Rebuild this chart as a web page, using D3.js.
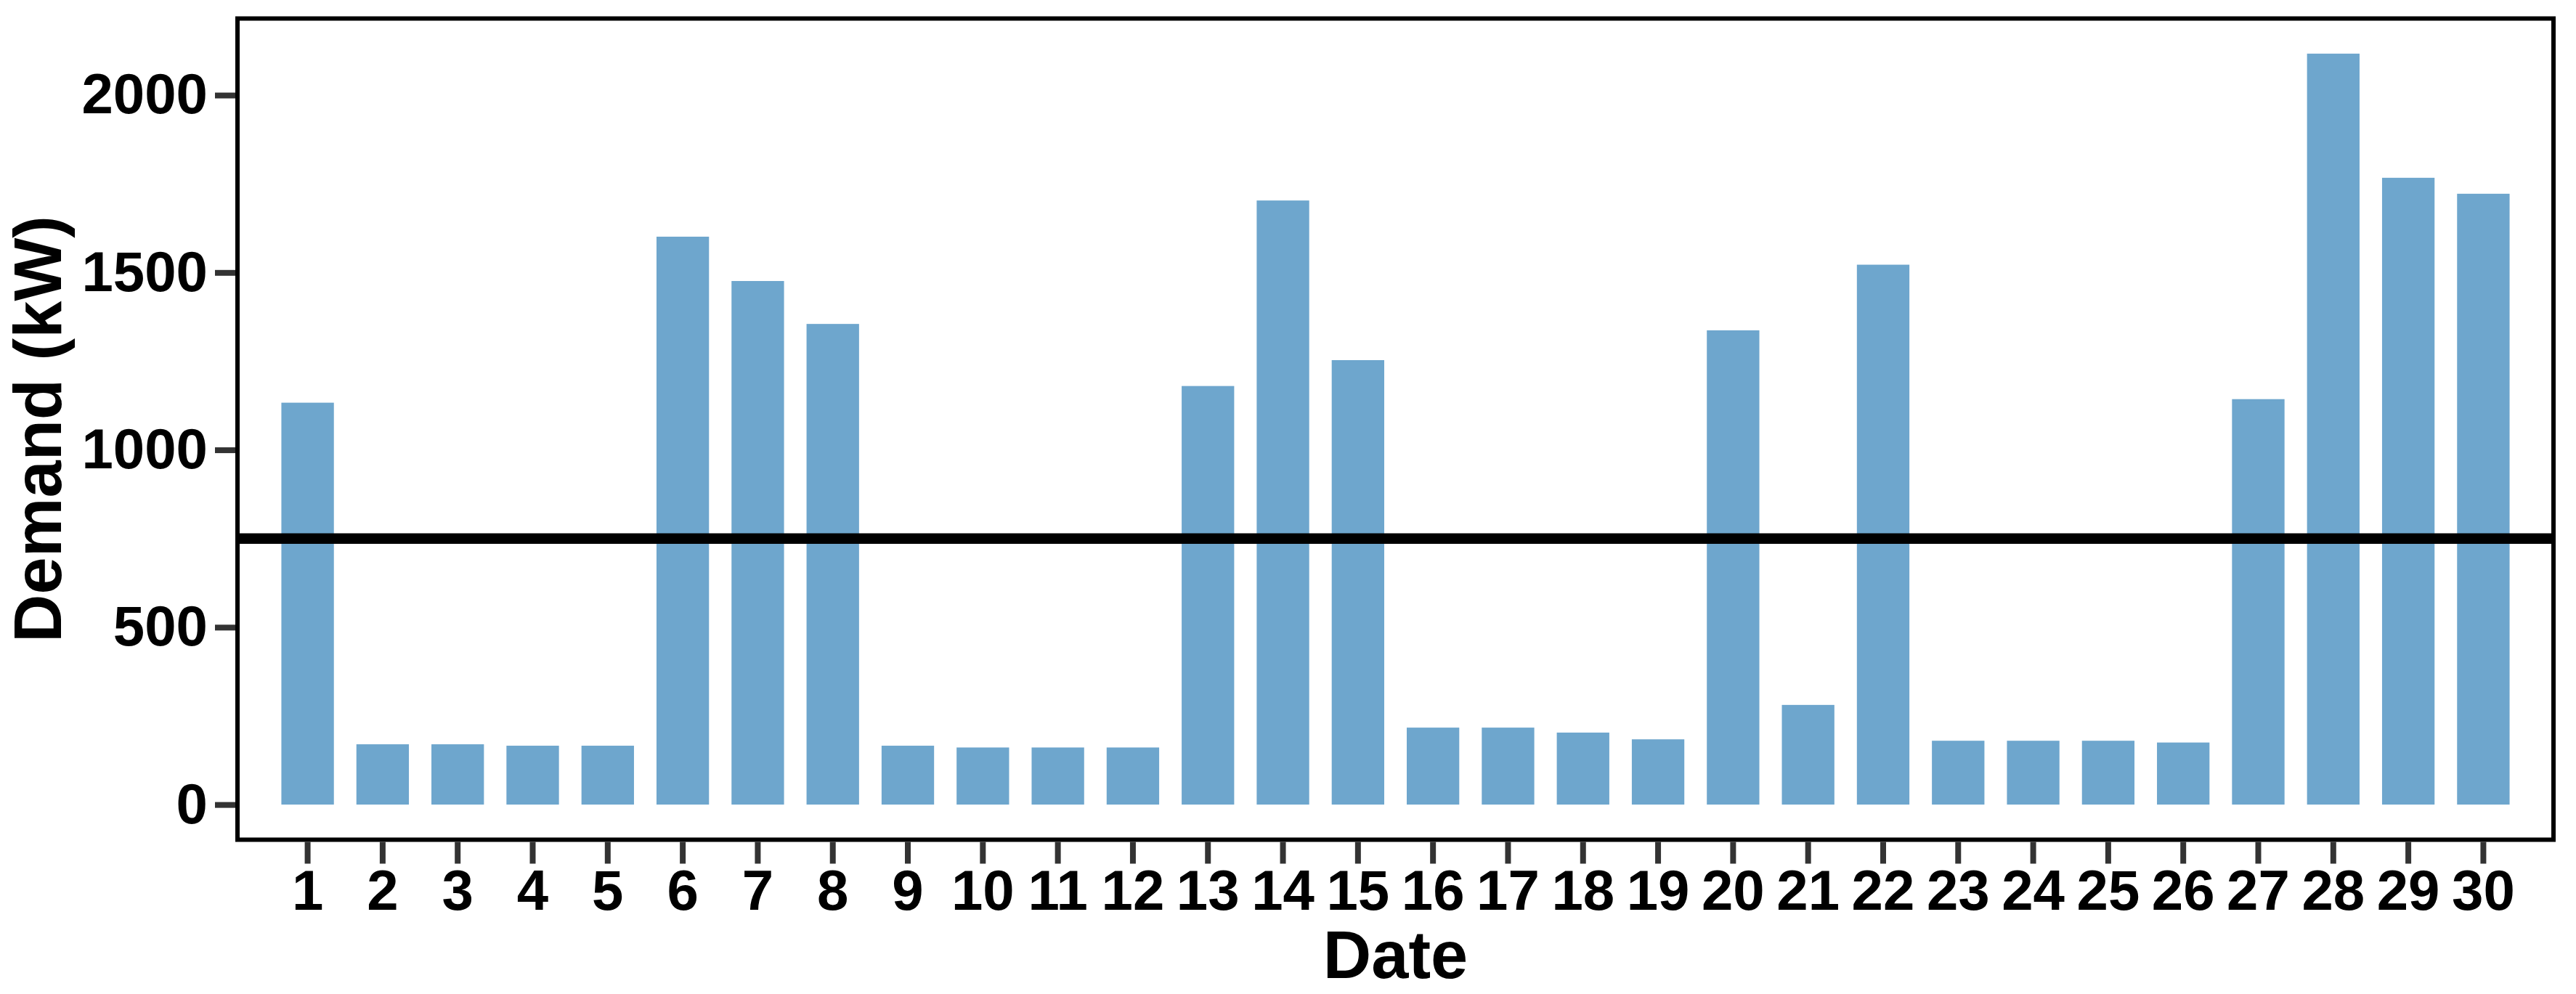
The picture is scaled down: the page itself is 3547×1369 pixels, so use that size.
<!DOCTYPE html>
<html>
<head>
<meta charset="utf-8">
<script src="https://cdn.jsdelivr.net/npm/d3@7"></script>
<style>
  html, body { margin: 0; padding: 0; background: #fff; }
  svg { display: block; }
  text { font-family: "Liberation Sans", Arial, Helvetica, sans-serif; font-weight: bold; }
</style>
</head>
<body>
<svg id="chart" width="3547" height="1369"></svg>
<script>
// ---- data ----
const days = [1,2,3,4,5,6,7,8,9,10,11,12,13,14,15,16,17,18,19,20,21,22,23,24,25,26,27,28,29,30];
const demand = [1133,170,170,166,166,1601,1476,1355,166,161,161,161,1180,1703,1253,217,217,203,184,1337,281,1522,180,180,180,175,1143,2117,1767,1722];
const threshold = 750;
const yTicks = [0,500,1000,1500,2000];
const xLabel = "Date";
const yLabel = "Demand (kW)";

// ---- layout ----
const plotLeft = 327, plotRight = 3516, plotTop = 25.5, plotBottom = 1156.5;
const frameW = 6;
const barColor = "#6ea6cd";

const svg = d3.select("#chart");

const x = d3.scaleBand()
  .domain(days)
  .range([plotLeft, plotRight])
  .paddingInner(0.3)
  .paddingOuter(0.585);

const y = d3.scaleLinear()
  .domain([-99, 2216])
  .range([plotBottom, plotTop]);

// bars
svg.append("g")
  .selectAll("rect")
  .data(days.map((d, i) => ({ day: d, v: demand[i] })))
  .join("rect")
  .attr("x", d => x(d.day))
  .attr("width", x.bandwidth())
  .attr("y", d => y(d.v))
  .attr("height", d => y(0) - y(d.v))
  .attr("fill", barColor);

// threshold line
svg.append("line")
  .attr("x1", plotLeft).attr("x2", plotRight)
  .attr("y1", y(threshold)).attr("y2", y(threshold))
  .attr("stroke", "#000")
  .attr("stroke-width", 14.5);

// frame
svg.append("rect")
  .attr("x", plotLeft).attr("y", plotTop)
  .attr("width", plotRight - plotLeft).attr("height", plotBottom - plotTop)
  .attr("fill", "none")
  .attr("stroke", "#000")
  .attr("stroke-width", frameW);

// x axis
const xAxis = svg.append("g")
  .attr("transform", `translate(0,${plotBottom + frameW / 2})`)
  .call(d3.axisBottom(x).tickSize(30).tickPadding(8).tickSizeOuter(0));
xAxis.select(".domain").remove();
xAxis.selectAll(".tick line").attr("stroke", "#333").attr("stroke-width", 8);
xAxis.selectAll(".tick text")
  .attr("fill", "#000")
  .style("font-size", "78px")
  .style("font-family", "'Liberation Sans', Arial, sans-serif")
  .style("font-weight", "bold");

// y axis
const yAxis = svg.append("g")
  .attr("transform", `translate(${plotLeft - frameW / 2},0)`)
  .call(d3.axisLeft(y).tickValues(yTicks).tickFormat(d3.format("d")).tickSize(28).tickPadding(10).tickSizeOuter(0));
yAxis.select(".domain").remove();
yAxis.selectAll(".tick line").attr("stroke", "#333").attr("stroke-width", 8);
yAxis.selectAll(".tick text")
  .attr("fill", "#000")
  .style("font-size", "78px")
  .style("font-family", "'Liberation Sans', Arial, sans-serif")
  .style("font-weight", "bold");

// axis labels
svg.append("text")
  .attr("x", (plotLeft + plotRight) / 2)
  .attr("y", 1347)
  .attr("text-anchor", "middle")
  .style("font-size", "92px")
  .attr("fill", "#000")
  .text(xLabel);

svg.append("text")
  .attr("transform", `translate(84,${(plotTop + plotBottom) / 2}) rotate(-90)`)
  .attr("text-anchor", "middle")
  .style("font-size", "92px")
  .attr("fill", "#000")
  .text(yLabel);
</script>
</body>
</html>
